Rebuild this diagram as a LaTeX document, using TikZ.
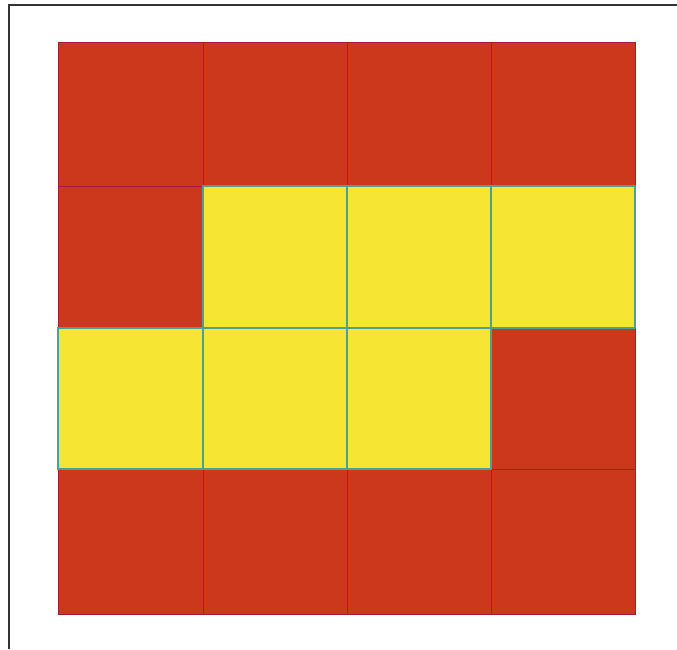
\documentclass[tikz,border=0pt]{standalone}
\definecolor{brick}{HTML}{CC381C}
\definecolor{sun}{HTML}{F6E532}
\definecolor{crim}{HTML}{9E1E40}
\definecolor{teal}{HTML}{4FA08E}
\definecolor{frame}{HTML}{333333}
\tikzset{
  redcell/.style={fill=brick, draw=crim, line width=1pt},
  yelcell/.style={fill=sun, draw=teal, line width=1.3pt},
  framestyle/.style={draw=frame, line width=1.2pt}
}
\begin{document}
\begin{tikzpicture}[x=1pt,y=-1pt]
\useasboundingbox (0,0) rectangle (677,649);
\fill[white] (0,0) rectangle (677,649);
\draw[framestyle] (9,649) -- (9,5) -- (677,5);
% grid
\foreach \x/\xx in {58/203,203/347,347/491,491/635}{
  \foreach \y/\yy in {42/186,186/328,328/469,469/614}{
    \draw[redcell] (\x,\y) rectangle (\xx,\yy);
  }
}
% yellow cells
\foreach \x/\xx/\y/\yy in {203/347/186/328, 347/491/186/328, 491/635/186/328,
                           58/203/328/469, 203/347/328/469, 347/491/328/469}{
  \draw[yelcell] (\x,\y) rectangle (\xx,\yy);
}
\end{tikzpicture}
\end{document}
